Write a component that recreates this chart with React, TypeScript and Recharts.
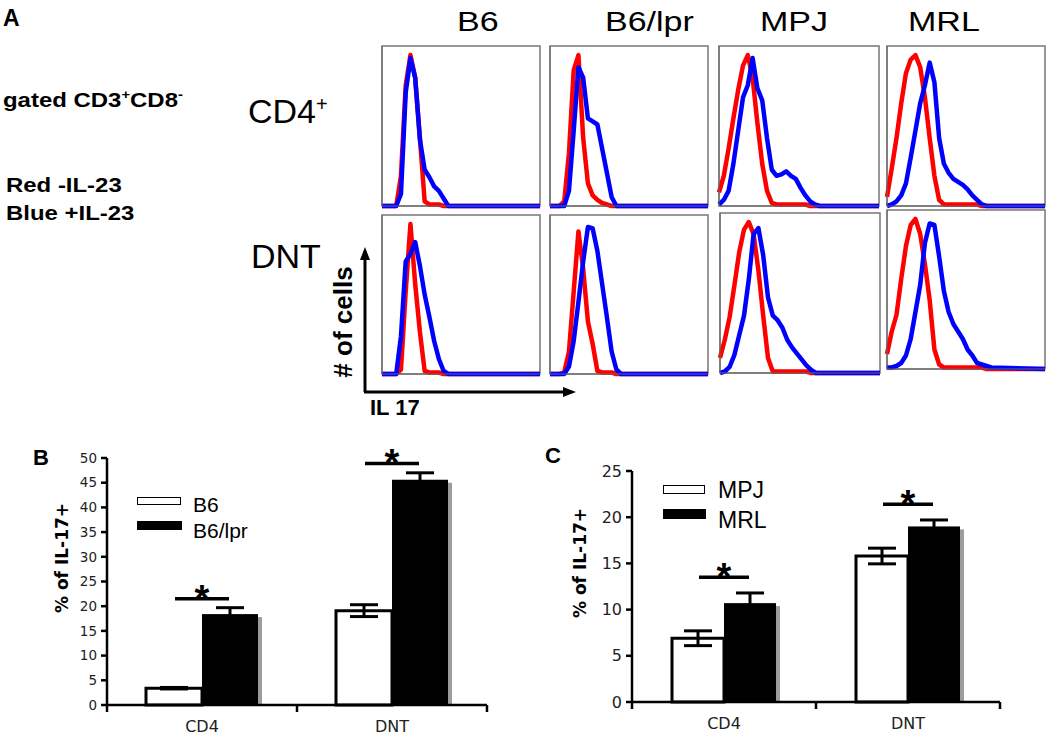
import { LineChart, Line, XAxis, YAxis, ReferenceArea, ComposedChart, Bar, ErrorBar, Scatter } from 'recharts'

// IL-17 channel position (0-100 across each histogram)
const CHANNELS = [0, 3, 6, 9, 12, 15, 18, 21, 24, 27, 30, 33, 36, 39, 42, 45, 48, 51, 54, 57, 60, 63, 66, 100]

// % of max, red = -IL-23, blue = +IL-23
const B6_CD4_RED = [0, 0, 0, 0, 20, 80, 100, 85, 45, 3, 1, 1, 1, 0, 0, 0, 0, 0, 0, 0, 0, 0, 0, 0]
const B6_CD4_BLUE = [0, 0, 0, 0, 8, 75, 98, 85, 44, 24, 19, 13, 10, 5, 0, 0, 0, 0, 0, 0, 0, 0, 0, 0]
const LPR_CD4_RED = [0, 0, 0, 3, 35, 90, 100, 45, 15, 7, 4, 2, 1, 0, 0, 0, 0, 0, 0, 0, 0, 0, 0, 0]
const LPR_CD4_BLUE = [0, 0, 0, 0, 10, 50, 92, 85, 58, 56, 54, 38, 22, 6, 0, 0, 0, 0, 0, 0, 0, 0, 0, 0]
const MPJ_CD4_RED = [9, 20, 38, 58, 77, 93, 100, 85, 55, 28, 10, 2, 1, 1, 1, 1, 1, 1, 1, 0, 0, 0, 0, 0]
const MPJ_CD4_BLUE = [1, 4, 10, 28, 50, 72, 80, 98, 78, 70, 45, 24, 20, 21, 23, 20, 18, 12, 7, 3, 1, 0, 0, 0]
const MRL_CD4_RED = [6, 25, 45, 68, 88, 97, 100, 92, 72, 45, 20, 4, 1, 1, 1, 1, 1, 1, 1, 1, 0, 0, 0, 0]
const MRL_CD4_BLUE = [0, 1, 3, 7, 15, 32, 50, 68, 80, 95, 82, 45, 28, 22, 18, 16, 14, 11, 7, 4, 1, 0, 0, 0]
const B6_DNT_RED = [0, 0, 0, 0, 3, 55, 100, 60, 28, 2, 1, 1, 1, 0, 0, 0, 0, 0, 0, 0, 0, 0, 0, 0]
const B6_DNT_BLUE = [0, 0, 0, 0, 25, 75, 80, 88, 72, 53, 38, 22, 10, 2, 0, 0, 0, 0, 0, 0, 0, 0, 0, 0]
const LPR_DNT_RED = [0, 0, 0, 1, 15, 55, 95, 70, 35, 20, 2, 1, 1, 1, 0, 0, 0, 0, 0, 0, 0, 0, 0, 0]
const LPR_DNT_BLUE = [0, 0, 0, 0, 5, 22, 48, 75, 98, 97, 82, 60, 38, 15, 3, 0, 0, 0, 0, 0, 0, 0, 0, 0]
const MPJ_DNT_RED = [10, 22, 37, 58, 80, 95, 100, 92, 68, 38, 10, 1, 1, 1, 1, 1, 1, 1, 1, 0, 0, 0, 0, 0]
const MPJ_DNT_BLUE = [0, 1, 4, 12, 25, 38, 62, 92, 96, 78, 50, 38, 35, 30, 22, 17, 13, 9, 5, 2, 0, 0, 0, 0]
const MRL_DNT_RED = [10, 25, 36, 60, 82, 96, 100, 90, 70, 46, 13, 3, 1, 1, 1, 1, 1, 1, 1, 1, 1, 0, 0, 0]
const MRL_DNT_BLUE = [1, 1, 2, 4, 9, 20, 38, 56, 84, 97, 96, 75, 52, 38, 30, 25, 20, 13, 9, 4, 3, 2, 1, 0]

const STRAINS_A = ['B6', 'B6/lpr', 'MPJ', 'MRL']

// panel B / C bar data
const GROUPS = ['CD4', 'DNT']
const B6_PCT = [3.4, 19.1]
const B6_ERR = [0.15, 1.2]
const LPR_PCT = [18.4, 45.6]
const LPR_ERR = [1.3, 1.4]
const B_SIG = [21.5, 48.9]
const MPJ_PCT = [6.9, 15.8]
const MPJ_ERR = [0.8, 0.85]
const MRL_PCT = [10.7, 19.0]
const MRL_ERR = [1.1, 0.7]
const C_SIG = [13.5, 21.4]
const B_TICKS = [0, 5, 10, 15, 20, 25, 30, 35, 40, 45, 50]
const C_TICKS = [0, 5, 10, 15, 20, 25]

const HISTS = [
  { red: B6_CD4_RED, blue: B6_CD4_BLUE, left: 382, top: 46, w: 158, h: 160 },
  { red: LPR_CD4_RED, blue: LPR_CD4_BLUE, left: 550, top: 46, w: 158, h: 160 },
  { red: MPJ_CD4_RED, blue: MPJ_CD4_BLUE, left: 719, top: 46, w: 160, h: 160 },
  { red: MRL_CD4_RED, blue: MRL_CD4_BLUE, left: 887, top: 46, w: 158, h: 160 },
  { red: B6_DNT_RED, blue: B6_DNT_BLUE, left: 382, top: 215, w: 158, h: 159 },
  { red: LPR_DNT_RED, blue: LPR_DNT_BLUE, left: 550, top: 215, w: 158, h: 159 },
  { red: MPJ_DNT_RED, blue: MPJ_DNT_BLUE, left: 720, top: 213, w: 160, h: 160 },
  { red: MRL_DNT_RED, blue: MRL_DNT_BLUE, left: 887, top: 210, w: 158, h: 159 },
]

const HEADER_LEFT = [457, 605, 760, 908]

const ARIAL = "'Liberation Sans', Arial, sans-serif"
const VERDANA = "'DejaVu Sans', Verdana, sans-serif"

function Histogram({ red, blue, left, top, w, h }: any) {
  const data = CHANNELS.map((ch, i) => ({ ch, red: red[i], blue: blue[i] }))
  return (
    <div style={{ position: 'absolute', left: left - 6, top: top - 2 }}>
      <LineChart width={w + 8} height={h + 8} data={data} margin={{ top: 2, right: 2, bottom: 2, left: 2 }}>
        <ReferenceArea x1={0} x2={100} y1={0} y2={106} fill="none" stroke="#777" strokeWidth={1.5} ifOverflow="visible" />
        <XAxis dataKey="ch" type="number" domain={[0, 100]} ticks={[0, 23, 46, 69, 92]} tick={false} tickSize={3} height={4} stroke="#666" />
        <YAxis type="number" domain={[0, 106]} ticks={[0, 20, 40, 60, 80, 100]} tick={false} tickSize={3} width={4} stroke="#666" />
        <Line dataKey="red" stroke="#ff0000" strokeWidth={4.5} dot={false} strokeLinejoin="round" isAnimationActive={false} />
        <Line dataKey="blue" stroke="#0000ff" strokeWidth={4.5} dot={false} strokeLinejoin="round" isAnimationActive={false} />
      </LineChart>
    </div>
  )
}

const ShadowBar = (props: any) => {
  const { x, y, width, height } = props
  return (
    <g>
      <rect x={x + 4} y={y + 3} width={width} height={Math.max(height - 3, 0)} fill="#9c9c9c" />
      <rect x={x} y={y} width={width} height={height} fill="#000" />
    </g>
  )
}

const makeSig = (half: number) => (props: any) => {
  const { cx, cy } = props
  return (
    <g>
      <line x1={cx - half} x2={cx + half} y1={cy} y2={cy} stroke="#000" strokeWidth={3.5} />
      <text x={cx} y={cy + 13} textAnchor="middle" fontSize={38} fontWeight="bold" fontFamily={ARIAL} fill="#000">*</text>
    </g>
  )
}

const makeBandTick = (half: number) => (props: any) => {
  const { x, y, payload, index } = props
  return (
    <g>
      <line x1={x - half} x2={x - half} y1={y} y2={y + 7} stroke="#000" strokeWidth={2.5} />
      {index === GROUPS.length - 1 && <line x1={x + half} x2={x + half} y1={y} y2={y + 7} stroke="#000" strokeWidth={2.5} />}
      <text x={x} y={y + 27} textAnchor="middle" fontSize={16} fontFamily={VERDANA} fill="#222">{payload.value}</text>
    </g>
  )
}

function BarPanel({ white, whiteErr, black, blackErr, sig, ticks, max, left, top, width, height, right, barSize, half, tickFont }: any) {
  const data = GROUPS.map((g, i) => ({ group: g, a: white[i], aErr: whiteErr[i], b: black[i], bErr: blackErr[i], sig: sig[i] }))
  return (
    <div style={{ position: 'absolute', left, top }}>
      <ComposedChart width={width} height={height} data={data} margin={{ top: 18, right, left: 0, bottom: 10 }} barGap={0} barSize={barSize}>
        <XAxis dataKey="group" height={30} tickLine={false} tickSize={0} tickMargin={0} axisLine={{ stroke: '#000', strokeWidth: 2.5 }} tick={makeBandTick(half)} interval={0} />
        <YAxis type="number" domain={[0, max]} ticks={ticks} width={67} tickSize={6} tickMargin={4}
          axisLine={{ stroke: '#000', strokeWidth: 2.5 }} tickLine={{ stroke: '#000', strokeWidth: 2.5 }}
          tick={{ fontSize: tickFont, fill: '#222', fontFamily: VERDANA }} />
        <Bar dataKey="a" fill="#fff" stroke="#000" strokeWidth={3} isAnimationActive={false}>
          <ErrorBar dataKey="aErr" width={14} stroke="#000" strokeWidth={3} />
        </Bar>
        <Bar dataKey="b" fill="#000" shape={ShadowBar} isAnimationActive={false}>
          <ErrorBar dataKey="bErr" width={14} stroke="#000" strokeWidth={3} />
        </Bar>
        <Scatter dataKey="sig" shape={makeSig(barSize / 2 - 1)} isAnimationActive={false} />
      </ComposedChart>
    </div>
  )
}

const abs = (left: number, top: number, fontSize: number, extra: any = {}) => ({
  position: 'absolute' as const, left, top, fontSize, lineHeight: 1, fontFamily: ARIAL, color: '#000', whiteSpace: 'nowrap' as const, ...extra,
})

const wide = { fontWeight: 'bold', transform: 'scaleX(1.14)', transformOrigin: 'left top' }

export default function App() {
  return (
    <div style={{ position: 'absolute', left: 0, top: 0, width: 1050, height: 738, background: '#fff', overflow: 'hidden' }}>
      {/* panel A */}
      <div style={abs(3, 7, 23, { fontWeight: 'bold' })}>A</div>
      <div style={abs(3, 88, 21, wide)}>gated CD3<sup style={{ fontSize: 13 }}>+</sup>CD8<sup style={{ fontSize: 13 }}>-</sup></div>
      <div style={abs(6, 174, 21, wide)}>Red -IL-23</div>
      <div style={abs(6, 202, 21, wide)}>Blue +IL-23</div>
      <div style={abs(248, 94, 34)}>CD4<sup style={{ fontSize: 20 }}>+</sup></div>
      <div style={abs(251, 239, 34)}>DNT</div>
      {STRAINS_A.map((s, i) => (
        <div key={s} style={abs(HEADER_LEFT[i], 9, 27, { transform: 'scaleX(1.26)', transformOrigin: 'left top' })}>{s}</div>
      ))}
      {HISTS.map((hp, i) => <Histogram key={i} {...hp} />)}
      <svg style={{ position: 'absolute', left: 0, top: 0 }} width={1050} height={738}>
        <line x1={365} y1={392} x2={365} y2={258} stroke="#000" strokeWidth={3} />
        <polygon points="365,247 360,260 370,260" fill="#000" />
        <line x1={364} y1={392} x2={565} y2={392} stroke="#000" strokeWidth={3} />
        <polygon points="576,392 563,387 563,397" fill="#000" />
      </svg>
      <div style={abs(343, 322, 26, { fontWeight: 'bold', transform: 'translate(-50%, -50%) rotate(-90deg)' })}># of cells</div>
      <div style={abs(370, 397, 22, { fontWeight: 'bold' })}>IL 17</div>

      {/* panel B */}
      <div style={abs(33, 447, 22, { fontWeight: 'bold' })}>B</div>
      <div style={abs(62, 558, 17, { fontWeight: 'bold', fontFamily: VERDANA, transform: 'translate(-50%, -50%) rotate(-90deg)' })}>% of IL-17+</div>
      <BarPanel white={B6_PCT} whiteErr={B6_ERR} black={LPR_PCT} blackErr={LPR_ERR} sig={B_SIG} ticks={B_TICKS} max={50}
        left={40} top={440} width={460} height={305} right={13} barSize={56} half={95} tickFont={13.5} />
      <div style={{ position: 'absolute', left: 137, top: 497, width: 42, height: 6, border: '1.5px solid #000', background: '#fff' }} />
      <div style={{ position: 'absolute', left: 137, top: 521, width: 45, height: 9, background: '#000' }} />
      <div style={abs(193, 494, 21)}>B6</div>
      <div style={abs(193, 520, 21)}>B6/lpr</div>

      {/* panel C */}
      <div style={abs(545, 445, 22, { fontWeight: 'bold' })}>C</div>
      <div style={abs(580, 563, 17, { fontWeight: 'bold', fontFamily: VERDANA, transform: 'translate(-50%, -50%) rotate(-90deg)' })}>% of IL-17+</div>
      <BarPanel white={MPJ_PCT} whiteErr={MPJ_ERR} black={MRL_PCT} blackErr={MRL_ERR} sig={C_SIG} ticks={C_TICKS} max={25}
        left={565} top={453} width={450} height={289} right={15} barSize={52} half={92} tickFont={16} />
      <div style={{ position: 'absolute', left: 663, top: 485, width: 40, height: 7, border: '1.5px solid #000', background: '#fff' }} />
      <div style={{ position: 'absolute', left: 663, top: 509, width: 43, height: 10, background: '#000' }} />
      <div style={abs(718, 479, 23)}>MPJ</div>
      <div style={abs(718, 509, 23)}>MRL</div>
    </div>
  )
}
